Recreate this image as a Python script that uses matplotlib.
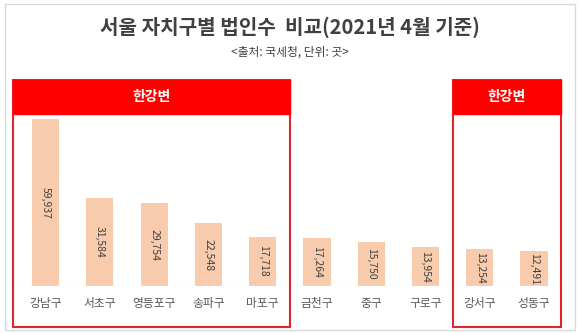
import matplotlib
matplotlib.use("Agg")
import matplotlib.pyplot as plt
from matplotlib.patches import Rectangle
from matplotlib.transforms import blended_transform_factory

plt.rcParams['font.family'] = ['Noto Sans CJK KR', 'DejaVu Sans']

districts = ['강남구', '서초구', '영등포구', '송파구', '마포구', '금천구', '중구', '구로구', '강서구', '성동구']
companies = [59937, 31584, 29754, 22548, 17718, 17264, 15750, 13954, 13254, 12491]
groups = [(0, 4), (8, 9)]  # 한강변 구간 (first, last index)
group_label = '한강변'

W, H = 580, 333
fig = plt.figure(figsize=(W / 100, H / 100), dpi=100)

def fx(px):
    return px / W

def fy(py):
    return 1 - py / H

# outer frame
fig.patches.append(Rectangle((fx(5), fy(330)), fx(570), (326) / H, transform=fig.transFigure,
                             fill=False, edgecolor='#D9D9D9', lw=1))

fig.text(0.5, fy(27), '서울 자치구별 법인수  비교(2021년 4월 기준)', ha='center', va='center',
         fontsize=14.5, fontweight='bold', color='#404040')
fig.text(0.5, fy(52), '<출처: 국세청, 단위: 곳>', ha='center', va='center', fontsize=8.5, color='#404040')

ax = fig.add_axes([fx(13), fy(286), fx(552), (286 - 80) / H])
x = list(range(len(districts)))
ax.bar(x, companies, width=0.5, color='#F8CBAD', zorder=2)
ymax = max(companies) * (286 - 80) / 167
ax.set_ylim(0, ymax)
ax.set_xlim(-0.6, 9.57)
for xi, v in zip(x, companies):
    ax.text(xi, v / 2, f'{v:,}', rotation=270, ha='center', va='center', fontsize=7.5, color='#404040', zorder=3)
ax.axhline(0, color='#EBEBEB', lw=1, zorder=3)
for s in ax.spines.values():
    s.set_visible(False)
ax.set_xticks([])
ax.set_yticks([])
for xi, name in zip(x, districts):
    ax.text(xi, fy(303), name, transform=blended_transform_factory(ax.transData, fig.transFigure),
            ha='center', va='center', fontsize=8.5, color='#595959')

tr = blended_transform_factory(ax.transData, fig.transFigure)
for a, b in groups:
    left = a - 0.6 if a == 0 else a - 0.5
    right = b + 0.5
    ax.add_patch(Rectangle((left, fy(327)), right - left, (327 - 80) / H, transform=tr,
                           fill=False, edgecolor='#E0262B', lw=1.5, clip_on=False, zorder=4))
    ax.add_patch(Rectangle((left, fy(114)), right - left, (114 - 80) / H, transform=tr,
                           facecolor='#FF0000', edgecolor='#FF0000', lw=1, clip_on=False, zorder=4))
    ax.text((left + right) / 2, fy(97), group_label, transform=tr, ha='center', va='center',
            fontsize=10, fontweight='bold', color='white', zorder=5)

fig.savefig('out.png', dpi=100)
